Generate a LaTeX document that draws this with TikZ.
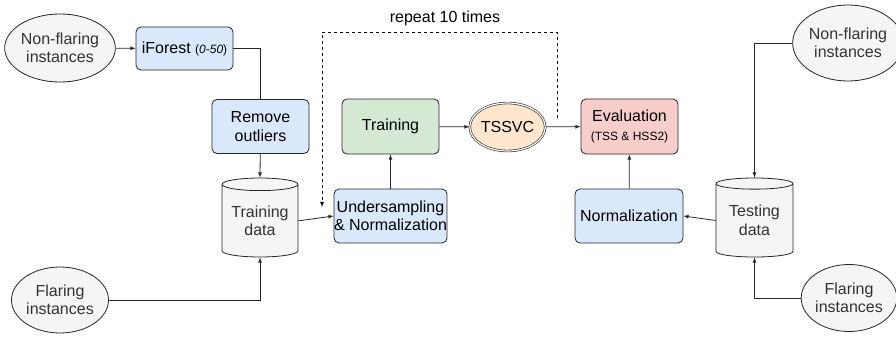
\documentclass[tikz,border=0pt]{standalone}
\usepackage{fontspec}
\setmainfont{Liberation Sans}
\usetikzlibrary{shapes.geometric}
\definecolor{greyfill}{HTML}{F5F5F5}
\definecolor{greytext}{HTML}{333333}
\definecolor{bluefill}{HTML}{DAE8FC}
\definecolor{greenfill}{HTML}{D5E8D4}
\definecolor{orangefill}{HTML}{FFE6CC}
\definecolor{redfill}{HTML}{F8CECC}
\begin{document}
\begin{tikzpicture}[x=1pt,y=-1pt,
  every node/.style={font=\fontsize{16}{18.5}\selectfont,align=center,inner sep=0pt},
  instances/.style={ellipse,draw=black!85,fill=greyfill,text=greytext,line width=0.8pt},
  procbox/.style={rectangle,rounded corners=5pt,draw=black!85,line width=0.8pt,minimum width=97pt,minimum height=54pt},
  dataset/.style={cylinder,shape border rotate=90,aspect=0.22,draw=black!85,fill=greyfill,text=greytext,
    line width=0.8pt,minimum width=76pt,minimum height=79pt,anchor=shape center},
  flow/.style={-latex,line width=0.8pt,draw=black!85},
  link/.style={line width=0.8pt,draw=black!85},
  loop/.style={-latex,line width=0.8pt,dash pattern=on 3pt off 3pt}
]
  \useasboundingbox (0,0) rectangle (896,337);
  % training side
  \node[instances,minimum width=97pt,minimum height=68pt] (nonflare1) at (60,48) {Non-flaring\\instances};
  \node[procbox,fill=bluefill,minimum height=43pt] (iforest) at (184.5,48.5) {iForest {\fontsize{12}{14}\selectfont(\textit{0-50})}};
  \node[procbox,fill=bluefill] (remove) at (260.5,126.5) {Remove\\outliers};
  \node[dataset] (traindata) at (260,217.5) {Training\\data};
  \node[instances,minimum width=97pt,minimum height=66pt] (flare1) at (60,300) {Flaring\\instances};
  \node[procbox,fill=bluefill,minimum width=109pt] (under) at (390.5,216) {Undersampling\\\& Normalization};
  \node[procbox,fill=greenfill,minimum height=55pt] (training) at (390.5,126.5) {Training};
  \node[ellipse,draw=black!85,fill=orangefill,double,double distance=1.2pt,line width=0.6pt,
    minimum width=69pt,minimum height=48pt] (tssvc) at (507.5,127) {TSSVC};
  % testing side
  \node[procbox,fill=redfill,minimum height=55pt] (eval) at (629.5,126.5) {Evaluation\\{\fontsize{12}{14}\selectfont(TSS \& HSS2)}};
  \node[procbox,fill=bluefill,minimum width=108pt] (norm) at (629,216) {Normalization};
  \node[dataset,minimum width=77pt] (testdata) at (754.5,217.5) {Testing\\data};
  \node[instances,minimum width=94pt,minimum height=76pt] (nonflare2) at (848,43) {Non-flaring\\instances};
  \node[instances,minimum width=94pt,minimum height=67pt] (flare2) at (849,298) {Flaring\\instances};
  \node (repeat) at (445,18) {repeat 10 times};
  \coordinate (loopstart) at (557,118);
  \coordinate (looptop) at (557,32);
  \coordinate (loopend) at (322,207);

  \draw[flow] (nonflare1) -- (iforest);
  \draw[link] (iforest.east) -| (remove.north);
  \draw[flow] (remove) -- (traindata.north);
  \draw[flow] (flare1) -| (traindata.south);
  \draw[flow] (traindata.east) -- (under.west);
  \draw[flow] (under) -- (training);
  \draw[flow] (training) -- (tssvc);
  \draw[flow] (tssvc) -- (eval);
  \draw[flow] (norm) -- (eval);
  \draw[flow] (testdata.west) -- (norm.east);
  \draw[flow] (nonflare2) -| (testdata.north);
  \draw[flow] (flare2) -| (testdata.south);
  \draw[loop] (loopstart) -- (looptop) -| (loopend);
\end{tikzpicture}
\end{document}
